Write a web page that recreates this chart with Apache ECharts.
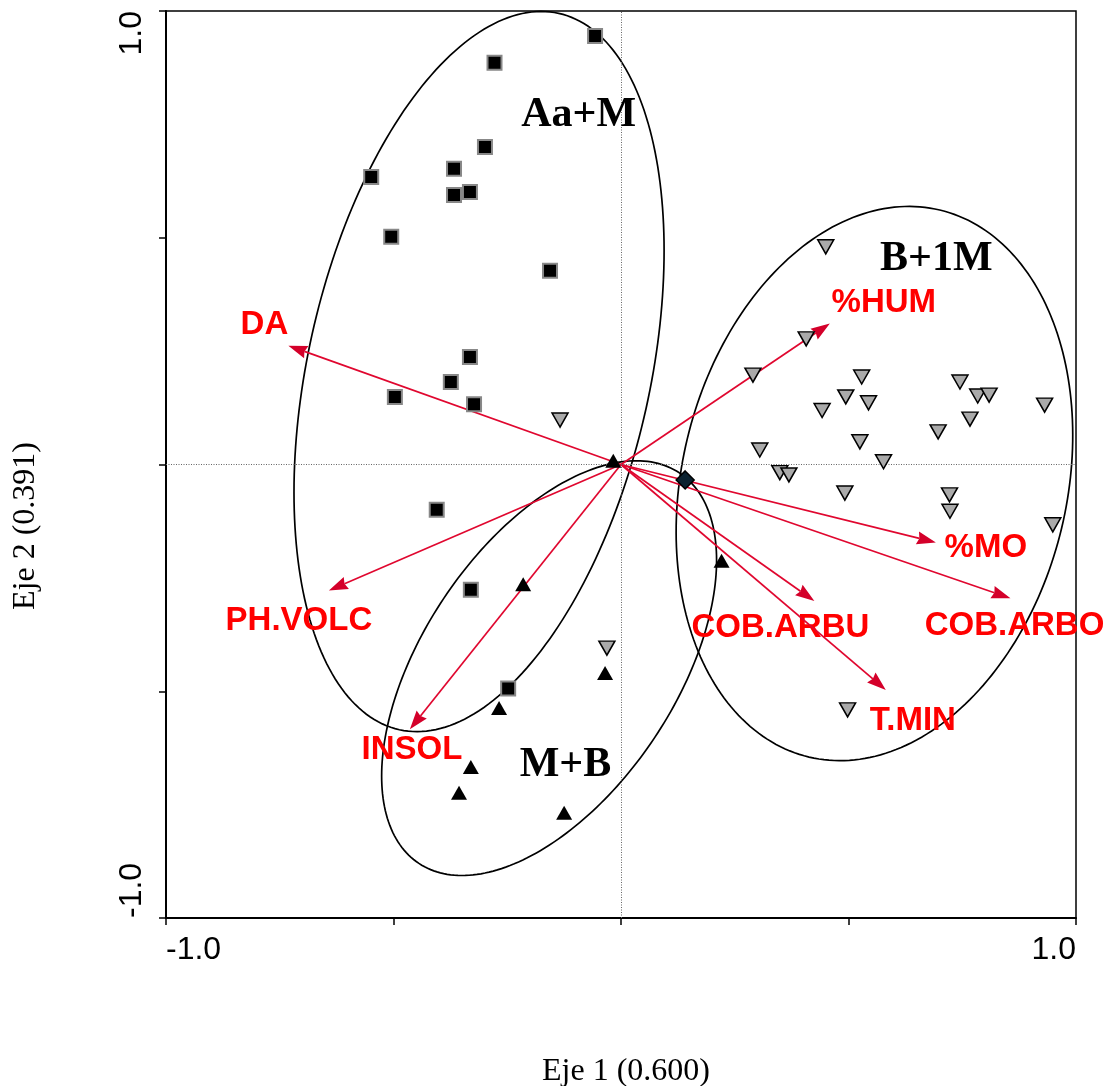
<!DOCTYPE html>
<html>
<head>
<meta charset="utf-8">
<title>Eje 1 / Eje 2</title>
<script src="https://cdn.jsdelivr.net/npm/echarts@6/dist/echarts.min.js"></script>
<style>
  html, body { margin: 0; padding: 0; background: #fff; }
  #chart { width: 1111px; height: 1086px; }
</style>
</head>
<body>
<div id="chart"></div>
<script>
// Site scores on the first two ordination axes
const sitesAaM = [
  [-0.057, 0.945], [-0.278, 0.886], [-0.299, 0.700], [-0.549, 0.634],
  [-0.367, 0.652], [-0.367, 0.594], [-0.332, 0.601], [-0.505, 0.502],
  [-0.156, 0.427], [-0.332, 0.237], [-0.374, 0.182], [-0.497, 0.149],
  [-0.323, 0.133], [-0.405, -0.100], [-0.330, -0.276], [-0.248, -0.494]
];
const sitesMB = [
  [-0.017, 0.008], [-0.215, -0.264], [-0.035, -0.460], [-0.268, -0.537],
  [-0.330, -0.667], [-0.356, -0.724], [-0.125, -0.768], [0.221, -0.212]
];
const sitesB1M = [
  [-0.134, 0.098], [0.450, 0.480], [0.407, 0.277], [0.290, 0.197],
  [0.529, 0.193], [0.494, 0.149], [0.544, 0.136], [0.442, 0.119],
  [0.745, 0.182], [0.784, 0.151], [0.809, 0.153], [0.931, 0.131],
  [0.767, 0.100], [0.697, 0.072], [0.525, 0.050], [0.305, 0.032],
  [0.577, 0.006], [0.349, -0.018], [0.369, -0.023], [0.492, -0.063],
  [0.722, -0.067], [0.723, -0.103], [0.949, -0.133], [-0.031, -0.405],
  [0.498, -0.541]
];
const sitesOther = [[0.141, -0.034]];

// Environmental variables (biplot arrow tips)
const varNames = ['DA', '%HUM', '%MO', 'COB.ARBU', 'COB.ARBO', 'T.MIN', 'PH.VOLC', 'INSOL'];
const varX = [-0.731, 0.459, 0.692, 0.425, 0.856, 0.582, -0.642, -0.464];
const varY = [0.262, 0.311, -0.172, -0.301, -0.295, -0.497, -0.278, -0.584];

// Group envelopes: centre x, centre y, semi-major, semi-minor, rotation (deg)
const groupNames = ['Aa+M', 'B+1M', 'M+B'];
const groupEllipses = [
  [-0.312, 0.205, 0.809, 0.376, 77.5],
  [0.557, -0.042, 0.620, 0.423, 76.6],
  [-0.158, -0.449, 0.517, 0.278, 56.4]
];

// Axis ticks
const axisMin = -1.0, axisMax = 1.0, axisStep = 0.5;

// --- layout (pixel offsets of variable names from arrow tips) ---
const varLabelOffset = {
  'DA': [-24, -21], '%HUM': [54, -21], '%MO': [50, 5], 'COB.ARBU': [-34, 27],
  'COB.ARBO': [4, 28], 'T.MIN': [27, 31], 'PH.VOLC': [-30, 30], 'INSOL': [2, 21]
};
// anchors of group names, in axis units
const groupLabelAnchor = [[-0.093, 0.770], [0.693, 0.452], [-0.122, -0.662]];

const arrowData = varNames.map((n, i) => [varX[i], varY[i], n]);
const ellipseData = groupEllipses.map((e, i) => e.concat([groupNames[i]]));
const groupLabelData = groupNames.map((n, i) => [groupLabelAnchor[i][0], groupLabelAnchor[i][1], n]);

function tickLabel(v) {
  return (Math.abs(v - axisMin) < 1e-9 || Math.abs(v - axisMax) < 1e-9) ? v.toFixed(1) : '';
}

const chart = echarts.init(document.getElementById('chart'), null, { renderer: 'canvas' });

const option = {
  backgroundColor: '#ffffff',
  animation: false,
  grid: {
    left: 166, right: 35, top: 11, bottom: 168,
    containLabel: false, outerBoundsMode: 'none',
    show: true, borderColor: '#000', borderWidth: 1.5
  },
  xAxis: {
    type: 'value', min: axisMin, max: axisMax, interval: axisStep,
    name: 'Eje 1 (0.600)', nameLocation: 'middle', nameGap: 138,
    nameTextStyle: { fontFamily: 'Liberation Serif', fontSize: 32, color: '#000', padding: [0, 0, 0, 10] },
    axisLine: { onZero: false, lineStyle: { color: '#000', width: 2 } },
    axisTick: { length: 7, lineStyle: { color: '#000', width: 1.5 } },
    splitLine: { show: false },
    axisLabel: {
      formatter: tickLabel, fontFamily: 'Liberation Sans', fontSize: 32, color: '#000',
      margin: 16, alignMinLabel: 'left', alignMaxLabel: 'right'
    }
  },
  yAxis: {
    type: 'value', min: axisMin, max: axisMax, interval: axisStep,
    name: 'Eje 2 (0.391)', nameLocation: 'middle', nameGap: 124,
    nameTextStyle: { fontFamily: 'Liberation Serif', fontSize: 32, color: '#000', padding: [0, 123, 0, 0] },
    axisLine: { onZero: false, lineStyle: { color: '#000', width: 2 } },
    axisTick: { length: 7, lineStyle: { color: '#000', width: 1.5 } },
    splitLine: { show: false },
    axisLabel: {
      formatter: tickLabel, fontFamily: 'Liberation Sans', fontSize: 32, color: '#000',
      rotate: 90, margin: 18, alignMinLabel: 'left', alignMaxLabel: 'right'
    }
  },
  series: [
    {
      // group envelopes
      type: 'custom',
      name: 'envelopes',
      coordinateSystem: 'cartesian2d',
      data: ellipseData,
      z: 2,
      silent: true,
      clip: false,
      renderItem: function (params, api) {
        const cx = api.value(0), cy = api.value(1), a = api.value(2), b = api.value(3);
        const th = api.value(4) * Math.PI / 180;
        const pts = [];
        const n = 240;
        for (let k = 0; k < n; k++) {
          const t = 2 * Math.PI * k / n;
          const ex = a * Math.cos(t), ey = b * Math.sin(t);
          pts.push(api.coord([cx + ex * Math.cos(th) - ey * Math.sin(th),
                              cy + ex * Math.sin(th) + ey * Math.cos(th)]));
        }
        return {
          type: 'polygon',
          shape: { points: pts },
          style: { fill: 'none', stroke: '#000', lineWidth: 1.7 }
        };
      },
      markLine: {
        silent: true,
        symbol: 'none',
        label: { show: false },
        lineStyle: { color: '#666', width: 1, type: [1, 1.5] },
        data: [{ xAxis: 0 }, { yAxis: 0 }]
      }
    },
    {
      // environmental variable arrows
      type: 'custom',
      name: 'variables',
      coordinateSystem: 'cartesian2d',
      data: arrowData,
      z: 3,
      silent: true,
      clip: false,
      renderItem: function (params, api) {
        const o = api.coord([0, 0]);
        const tip = api.coord([api.value(0), api.value(1)]);
        const name = arrowData[params.dataIndex][2];
        const dx = tip[0] - o[0], dy = tip[1] - o[1];
        const len = Math.sqrt(dx * dx + dy * dy);
        const ux = dx / len, uy = dy / len;
        const headLen = 19, headHalf = 6.5;
        const base = [tip[0] - ux * headLen, tip[1] - uy * headLen];
        const px = -uy, py = ux;
        const off = varLabelOffset[name];
        return {
          type: 'group',
          children: [
            { type: 'line', shape: { x1: o[0], y1: o[1], x2: base[0] + ux * 2, y2: base[1] + uy * 2 },
              style: { stroke: '#e0072f', lineWidth: 1.7 } },
            { type: 'polygon',
              shape: { points: [tip, [base[0] + px * headHalf, base[1] + py * headHalf],
                                [base[0] + ux * 2, base[1] + uy * 2],
                                [base[0] - px * headHalf, base[1] - py * headHalf]] },
              style: { fill: '#d4002a', stroke: 'none' } },
            { type: 'text', x: tip[0] + off[0], y: tip[1] + off[1],
              style: { text: name, fill: '#ff0000', font: 'bold 33px "Liberation Sans"',
                       align: 'center', verticalAlign: 'middle' } }
          ]
        };
      }
    },
    {
      name: 'Aa+M', type: 'scatter', data: sitesAaM, z: 5,
      symbol: 'rect', symbolSize: 14,
      itemStyle: { color: '#000', borderColor: '#888', borderWidth: 2, opacity: 1 }
    },
    {
      name: 'M+B', type: 'scatter', data: sitesMB, z: 5,
      symbol: 'triangle', symbolSize: [16, 14],
      itemStyle: { color: '#000', opacity: 1 }
    },
    {
      name: 'B+1M', type: 'scatter', data: sitesB1M, z: 5,
      symbol: 'triangle', symbolSize: [16, 14], symbolRotate: 180,
      itemStyle: { color: '#aaaaaa', borderColor: '#000', borderWidth: 1.5, opacity: 1 }
    },
    {
      name: 'other', type: 'scatter', data: sitesOther, z: 5,
      symbol: 'diamond', symbolSize: [18, 18],
      itemStyle: { color: '#0b2230', borderColor: '#000', borderWidth: 1.5, opacity: 1 }
    },
    {
      // group names
      type: 'custom',
      name: 'groups',
      coordinateSystem: 'cartesian2d',
      data: groupLabelData,
      z: 6,
      silent: true,
      clip: false,
      renderItem: function (params, api) {
        const p = api.coord([api.value(0), api.value(1)]);
        return {
          type: 'text', x: p[0], y: p[1],
          style: { text: groupLabelData[params.dataIndex][2], fill: '#000',
                   font: 'bold 42px "Liberation Serif"', align: 'center', verticalAlign: 'middle' }
        };
      }
    }
  ]
};

chart.setOption(option);
</script>
</body>
</html>
